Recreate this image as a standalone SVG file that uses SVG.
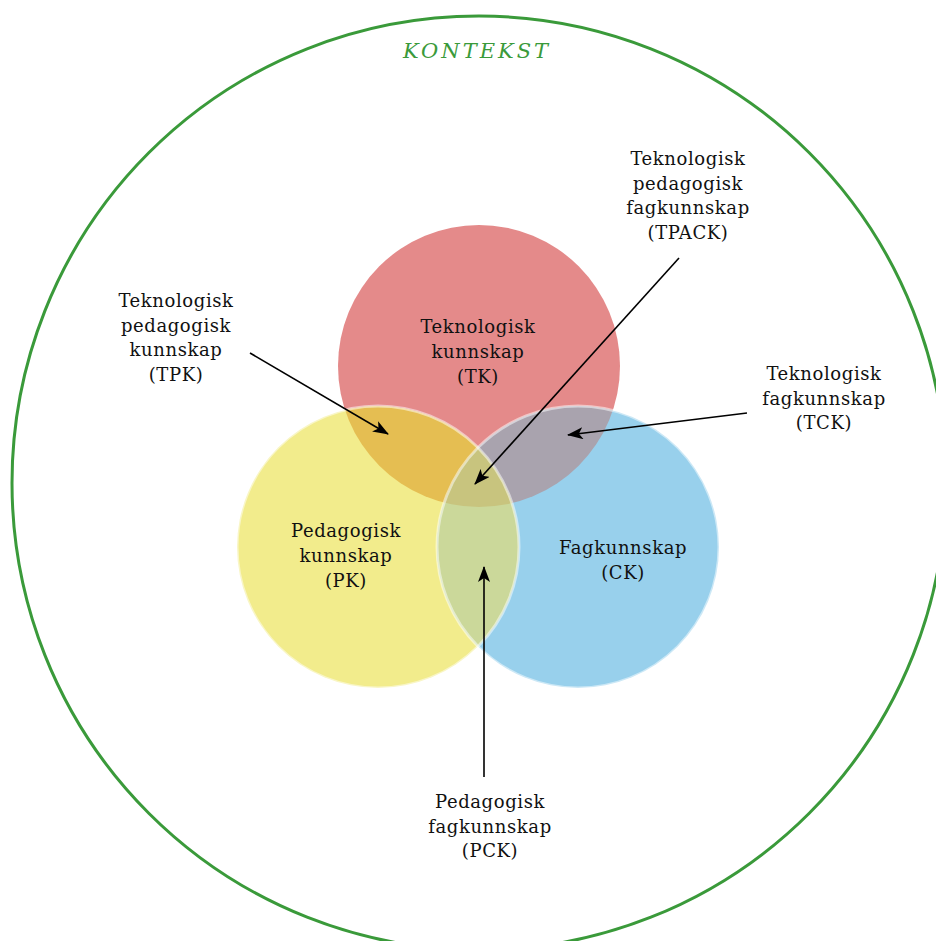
<svg xmlns="http://www.w3.org/2000/svg" width="936" height="941" viewBox="0 0 936 941">
<style>
.lbl{font-family:"DejaVu Serif","Liberation Serif",serif;font-size:18px;fill:#111;text-anchor:middle;letter-spacing:0.6px}
.ctx{font-family:"DejaVu Serif","Liberation Serif",serif;font-size:21px;font-style:italic;fill:#3a9a3a;text-anchor:middle;letter-spacing:3px}
.conn{stroke:#000;stroke-width:1.6;fill:none;marker-end:url(#ah)}
.rim{fill:none;stroke:#fff;stroke-opacity:0.5;stroke-width:3}
</style>
<defs>
<marker id="ah" viewBox="0 0 16 12" refX="15" refY="6" markerWidth="16" markerHeight="12" markerUnits="userSpaceOnUse" orient="auto">
<path d="M0,0 L16,6 L0,12 L4,6 z" fill="#000"/>
</marker>
<clipPath id="cR"><circle cx="479" cy="366" r="141"/></clipPath>
<clipPath id="cY"><circle cx="378" cy="547" r="141"/></clipPath>
</defs>
<rect width="936" height="941" fill="#fff"/>
<g id="kontekst">
<circle cx="479" cy="483" r="467" fill="none" stroke="#3a9a3a" stroke-width="3"/>
<text class="ctx" x="477" y="58">KONTEKST</text>
</g>
<g id="tk">
<circle cx="479" cy="366" r="141" fill="#e48a8a"/>
</g>
<g id="pk">
<circle cx="378" cy="547" r="141" fill="#f2ec8c"/>
</g>
<g id="ck">
<circle cx="578" cy="547" r="141" fill="#98d0ec"/>
</g>
<g id="tpk">
<circle cx="378" cy="547" r="141" fill="#e5be52" clip-path="url(#cR)"/>
</g>
<g id="tck">
<circle cx="578" cy="547" r="141" fill="#a9a3ae" clip-path="url(#cR)"/>
</g>
<g id="pck">
<circle cx="578" cy="547" r="141" fill="#cbd89a" clip-path="url(#cY)"/>
</g>
<g id="tpack">
<g clip-path="url(#cR)"><circle cx="578" cy="547" r="141" fill="#c8c47e" clip-path="url(#cY)"/></g>
</g>
<g id="rims">
<circle class="rim" cx="378" cy="547" r="141"/>
<circle class="rim" cx="578" cy="547" r="141"/>
</g>
<g id="labels">
<text class="lbl" x="478" y="333">Teknologisk<tspan x="478" dy="25">kunnskap</tspan><tspan x="478" dy="25">(TK)</tspan></text>
<text class="lbl" x="346" y="537">Pedagogisk<tspan x="346" dy="25">kunnskap</tspan><tspan x="346" dy="25">(PK)</tspan></text>
<text class="lbl" x="623" y="554">Fagkunnskap<tspan x="623" dy="25">(CK)</tspan></text>
<text class="lbl" x="176" y="307">Teknologisk<tspan x="176" dy="24.5">pedagogisk</tspan><tspan x="176" dy="24.5">kunnskap</tspan><tspan x="176" dy="24.5">(TPK)</tspan></text>
<text class="lbl" x="688" y="165">Teknologisk<tspan x="688" dy="24.5">pedagogisk</tspan><tspan x="688" dy="24.5">fagkunnskap</tspan><tspan x="688" dy="24.5">(TPACK)</tspan></text>
<text class="lbl" x="824" y="380">Teknologisk<tspan x="824" dy="24.5">fagkunnskap</tspan><tspan x="824" dy="24.5">(TCK)</tspan></text>
<text class="lbl" x="490" y="808">Pedagogisk<tspan x="490" dy="24.5">fagkunnskap</tspan><tspan x="490" dy="24.5">(PCK)</tspan></text>
</g>
<g id="connectors">
<line class="conn" x1="250" y1="353" x2="388" y2="434"/>
<line class="conn" x1="679" y1="258" x2="475" y2="484"/>
<line class="conn" x1="747" y1="413" x2="568" y2="435"/>
<line class="conn" x1="484" y1="777" x2="484" y2="567"/>
</g>
</svg>
